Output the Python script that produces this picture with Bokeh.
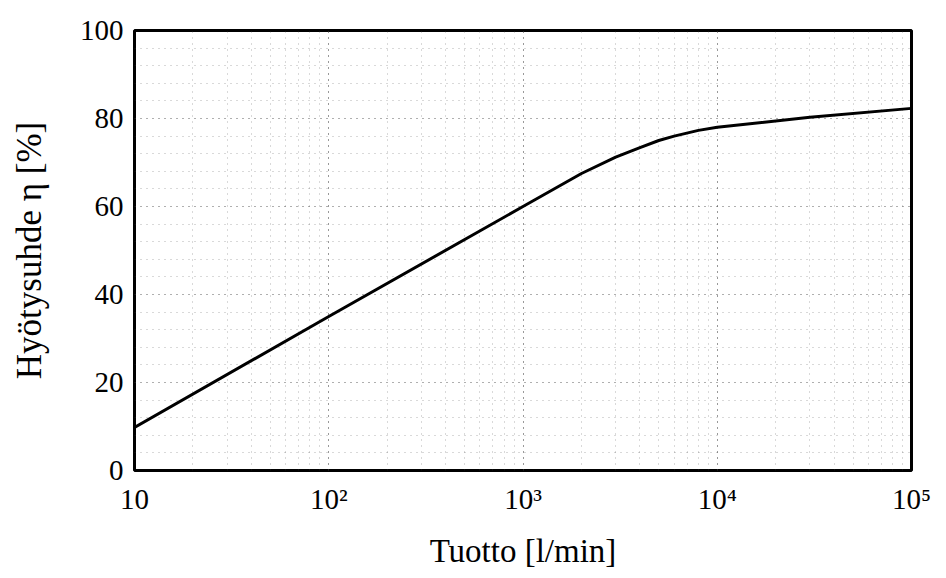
from bokeh.plotting import figure
from bokeh.embed import file_html
from bokeh.resources import INLINE
from bokeh.models import FixedTicker, LogTicker, Range1d

# data
flow = [10, 100, 1000, 2000, 3000, 4000, 5000, 6000, 8000, 10000, 30000, 100000]
efficiency = [9.8, 35.0, 60.0, 67.5, 71.2, 73.4, 75.0, 76.0, 77.3, 78.0, 80.3, 82.3]

x_ticks = [10, 100, 1000, 10000, 100000]
x_tick_labels = ["10", "10²", "10³", "10⁴", "10⁵"]
y_ticks = [0, 20, 40, 60, 80, 100]

FONT = "Liberation Serif"

p = figure(width=940, height=576, x_axis_type="log",
           x_range=Range1d(10, 100000), y_range=Range1d(0, 100),
           output_backend="svg", toolbar_location=None,
           min_border_left=134, min_border_right=29,
           min_border_top=30, min_border_bottom=106)

p.line(flow, efficiency, line_color="black", line_width=3)

p.xaxis.ticker = LogTicker(desired_num_ticks=5, num_minor_ticks=10)
p.xaxis.major_label_overrides = {t: l for t, l in zip(x_ticks, x_tick_labels)}
p.yaxis.ticker = FixedTicker(ticks=y_ticks,
                             minor_ticks=list(range(0, 101, 4)))
p.xgrid.ticker = p.xaxis.ticker
p.ygrid.ticker = p.yaxis.ticker

for ax in (p.xaxis[0], p.yaxis[0]):
    ax.axis_line_color = None
    ax.major_tick_out = 0
    ax.major_tick_in = 0
    ax.minor_tick_out = 0
    ax.minor_tick_in = 0
    ax.major_label_text_font = FONT
    ax.major_label_text_font_size = "29px"
    ax.major_label_text_color = "black"
    ax.axis_label_text_font = FONT
    ax.axis_label_text_font_size = "33px"
    ax.axis_label_text_font_style = "normal"
    ax.axis_label_text_color = "black"

p.yaxis.axis_label_text_font_size = "35px"
p.xaxis.axis_label = "Tuotto [l/min]"
p.yaxis.axis_label = "Hyötysuhde η [%]"
p.xaxis.major_label_standoff = 12
p.yaxis.major_label_standoff = 11
p.xaxis.axis_label_standoff = 15
p.yaxis.axis_label_standoff = 28

for g in (p.xgrid[0], p.ygrid[0]):
    g.grid_line_color = "#444444"
    g.grid_line_alpha = 0.55
    g.grid_line_dash = "1 5"
    g.grid_line_width = 1
    g.minor_grid_line_color = "#444444"
    g.minor_grid_line_alpha = 0.4
    g.minor_grid_line_dash = "1 5"
    g.minor_grid_line_width = 1

p.outline_line_color = "black"
p.outline_line_width = 3
p.outline_line_alpha = 1.0
p.background_fill_color = "white"
p.border_fill_color = "white"

open("out.html", "w").write(file_html(p, INLINE))
